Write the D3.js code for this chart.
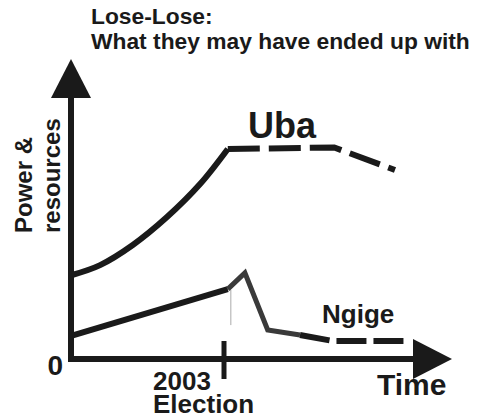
<!DOCTYPE html>
<html>
<head>
<meta charset="utf-8">
<script src="https://cdn.jsdelivr.net/npm/d3@7"></script>
<style>
  body { margin: 0; background: #fff; }
  text { font-family: "Liberation Sans", Arial, sans-serif; font-weight: bold; fill: #1a1a1a; }
</style>
</head>
<body>
<svg id="chart"></svg>
<script>
// values: time 0..100 (arrow tip), power 0..100 (arrow tip)
const ubaRiseTime = [0, 7.4, 16, 25, 33.7, 41];
const ubaRisePower = [28, 31.3, 38, 47.3, 58.3, 70];
const ubaAfterTime = [41, 69, 85];
const ubaAfterPower = [70, 70.5, 63];

const ngigeRiseTime = [0, 41];
const ngigeRisePower = [7.8, 23.3];
const ngigeSpikeTime = [41, 45.5, 51.5, 60];
const ngigeSpikePower = [23.3, 28.7, 9.7, 8];
const ngigeAfterTime = [60, 68.7, 88.5];
const ngigeAfterPower = [8, 6, 6];

const electionTime = 40;
const electionMarkTime = 41.8;
const electionMarkPower = [23, 11.3];

const titleLines = ["Lose-Lose:", "What they may have ended up with"];
const yLabelLines = ["Power &", "resources"];
const xTickLabels = ["2003", "Election"];
const zeroLabel = "0";
const xLabel = "Time";
const seriesNames = ["Uba", "Ngige"];

function zip(ts, ps) {
  return ts.map((t, i) => ({ t: t, p: ps[i] }));
}

function getChartConfig() {
  const dimensions = { width: 478, height: 419 };
  const chart = d3.select("#chart")
    .attr("width", dimensions.width)
    .attr("height", dimensions.height);
  return { dimensions, container: chart };
}

function getScales() {
  const xScale = d3.scaleLinear().domain([0, 100]).range([72, 452]);
  const yScale = d3.scaleLinear().domain([0, 100]).range([359, 59]);
  return { xScale, yScale };
}

function drawAxes(config, scales) {
  const { container } = config;
  const { xScale, yScale } = scales;
  const x0 = xScale(0) - 1, y0 = yScale(0);
  const head = 39, half = 20;

  const axes = container.append("g");
  // y axis
  axes.append("line")
    .attr("x1", x0).attr("y1", y0 + 3)
    .attr("x2", x0).attr("y2", yScale(100) + head)
    .attr("stroke", "#1a1a1a").attr("stroke-width", 6);
  axes.append("path")
    .attr("d", `M${x0},${yScale(100)}L${x0 - half},${yScale(100) + head}L${x0 + half},${yScale(100) + head}Z`)
    .attr("fill", "#1a1a1a");
  // x axis
  axes.append("line")
    .attr("x1", x0 - 3).attr("y1", y0)
    .attr("x2", xScale(100) - head).attr("y2", y0)
    .attr("stroke", "#1a1a1a").attr("stroke-width", 6);
  axes.append("path")
    .attr("d", `M${xScale(100)},${y0}L${xScale(100) - head},${y0 - half}L${xScale(100) - head},${y0 + half}Z`)
    .attr("fill", "#1a1a1a");
  // election tick
  axes.append("line")
    .attr("x1", xScale(electionTime)).attr("y1", y0 - 18)
    .attr("x2", xScale(electionTime)).attr("y2", y0 + 20)
    .attr("stroke", "#1a1a1a").attr("stroke-width", 5);
}

function drawLines(config, scales) {
  const { container } = config;
  const { xScale, yScale } = scales;
  const line = d3.line().x(d => xScale(d.t)).y(d => yScale(d.p));
  const curve = d3.line().x(d => xScale(d.t)).y(d => yScale(d.p)).curve(d3.curveCatmullRom);

  const g = container.append("g").attr("fill", "none");

  // thin mark under the ngige spike
  g.append("line")
    .attr("x1", xScale(electionMarkTime)).attr("y1", yScale(electionMarkPower[0]))
    .attr("x2", xScale(electionMarkTime)).attr("y2", yScale(electionMarkPower[1]))
    .attr("stroke", "#aaa").attr("stroke-width", 1);

  g.append("path")
    .attr("d", curve(zip(ubaRiseTime, ubaRisePower)))
    .attr("stroke", "#1a1a1a").attr("stroke-width", 6);
  g.append("path")
    .attr("d", line(zip(ubaAfterTime, ubaAfterPower)))
    .attr("stroke", "#1a1a1a").attr("stroke-width", 6)
    .attr("stroke-dasharray", "32,9");

  g.append("path")
    .attr("d", line(zip(ngigeRiseTime, ngigeRisePower)))
    .attr("stroke", "#1a1a1a").attr("stroke-width", 6);
  g.append("path")
    .attr("d", line(zip(ngigeSpikeTime, ngigeSpikePower)))
    .attr("stroke", "#3a3a3a").attr("stroke-width", 5)
    .attr("stroke-linejoin", "miter");
  g.append("path")
    .attr("d", line(zip(ngigeAfterTime, ngigeAfterPower)))
    .attr("stroke", "#1a1a1a").attr("stroke-width", 6)
    .attr("stroke-dasharray", "30,7");
}

function addLabels(config) {
  const { container } = config;

  container.append("g").selectAll("text")
    .data(titleLines).enter().append("text")
    .attr("x", 91)
    .attr("y", (d, i) => 24 + i * 25)
    .attr("font-size", 22.8)
    .text(d => d);

  container.append("g").selectAll("text")
    .data(yLabelLines).enter().append("text")
    .attr("transform", (d, i) => `translate(${32 + i * 28},233)rotate(-90)`)
    .attr("font-size", 24)
    .text(d => d);

  container.append("text")
    .attr("x", 63).attr("y", 375)
    .attr("text-anchor", "end")
    .attr("font-size", 28)
    .text(zeroLabel);

  container.append("g").selectAll("text")
    .data(xTickLabels).enter().append("text")
    .attr("x", 153)
    .attr("y", (d, i) => 390 + i * 23)
    .attr("font-size", 26)
    .text(d => d);

  container.append("text")
    .attr("x", 377).attr("y", 395)
    .attr("font-size", 30)
    .text(xLabel);

  container.append("text")
    .attr("x", 248).attr("y", 138)
    .attr("font-size", 36)
    .text(seriesNames[0]);

  container.append("text")
    .attr("x", 322).attr("y", 323)
    .attr("font-size", 26)
    .text(seriesNames[1]);
}

function renderChart() {
  const config = getChartConfig();
  const scales = getScales();
  drawAxes(config, scales);
  drawLines(config, scales);
  addLabels(config);
}

renderChart();
</script>
</body>
</html>
